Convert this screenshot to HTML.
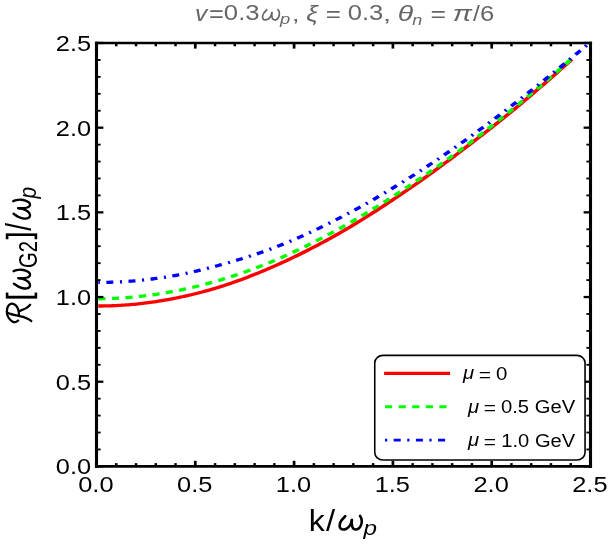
<!DOCTYPE html>
<html><head><meta charset="utf-8"><title>plot</title>
<style>
html,body{margin:0;padding:0;background:#fff;}
body{width:610px;height:545px;overflow:hidden;font-family:"Liberation Sans",sans-serif;}
svg{display:block;will-change:transform;}
text{font-family:"Liberation Sans",sans-serif;}
.tl{font-size:22.4px;fill:#000;}
.mj{stroke:#000;stroke-width:2.7;}
.mjh{stroke:#000;stroke-width:2.3;}
.mn{stroke:#000;stroke-width:2.5;}
.mnh{stroke:#000;stroke-width:1.85;}
</style></head><body>
<svg width="610" height="545" viewBox="0 0 610 545">
<rect x="0" y="0" width="610" height="545" fill="#fff"/>
<!-- title -->
<g><text transform="matrix(0.2458,0,0,0.2208,194.93,20.60)" font-size="100" font-style="italic" fill="#666666">v</text>
<text transform="matrix(0.2542,0,0,0.2312,208.93,22.13)" font-size="100" fill="#666666">=</text>
<text transform="matrix(0.2573,0,0,0.2225,223.87,20.48)" font-size="100" fill="#666666">0.3</text>
<text transform="matrix(0.1833,0,0,0.1440,280.07,24.48)" font-size="100" font-style="italic" fill="#666666">p</text>
<text transform="matrix(0.2700,0,0,0.1917,291.97,20.51)" font-size="100" fill="#666666">,</text>
<text transform="matrix(0.2622,0,0,0.2244,306.31,20.78)" font-size="100" font-style="italic" fill="#666666">ξ</text>
<text transform="matrix(0.2604,0,0,0.2250,325.80,22.02)" font-size="100" fill="#666666">=</text>
<text transform="matrix(0.2557,0,0,0.2225,347.78,20.48)" font-size="100" fill="#666666">0.3</text>
<text transform="matrix(0.2900,0,0,0.1917,382.89,20.51)" font-size="100" fill="#666666">,</text>
<text transform="matrix(0.2833,0,0,0.2274,397.68,21.00)" font-size="100" font-style="italic" fill="#666666">θ</text>
<text transform="matrix(0.1796,0,0,0.1556,412.34,24.60)" font-size="100" font-style="italic" fill="#666666">n</text>
<text transform="matrix(0.2667,0,0,0.2250,430.57,22.02)" font-size="100" fill="#666666">=</text>
<text transform="matrix(0.2873,0,0,0.2222,452.86,20.58)" font-size="100" font-style="italic" fill="#666666">π</text>
<text transform="matrix(0.2464,0,0,0.2247,472.90,20.80)" font-size="100" fill="#666666">/</text>
<text transform="matrix(0.2565,0,0,0.2239,480.02,20.58)" font-size="100" fill="#666666">6</text></g>
<g fill="none" stroke="#666666" stroke-width="1.7" stroke-linecap="round" stroke-linejoin="round"><path d="M266.86,9.75 C266.38,10.27 264.70,11.80 263.99,12.90 C263.27,13.99 262.71,15.33 262.57,16.34 C262.43,17.34 262.71,18.33 263.14,18.92 C263.57,19.51 264.38,19.83 265.15,19.89 C265.91,19.96 266.96,19.70 267.72,19.32 C268.49,18.94 269.15,18.27 269.73,17.60 C270.30,16.93 270.81,16.14 271.16,15.31 C271.52,14.48 271.73,13.06 271.84,12.62"/><path d="M271.84,12.62 C271.83,13.14 271.66,14.74 271.79,15.76 C271.91,16.78 272.13,18.06 272.60,18.75 C273.07,19.43 273.89,19.81 274.60,19.89 C275.32,19.97 276.22,19.69 276.88,19.21 C277.55,18.74 278.20,17.87 278.61,17.03 C279.03,16.18 279.28,15.09 279.35,14.16 C279.42,13.23 279.24,12.23 279.02,11.47 C278.80,10.70 278.21,9.89 278.04,9.57"/></g>
<!-- curves -->
<clipPath id="cp"><rect x="96.5" y="43.0" width="494.00" height="423.40"/></clipPath>
<g clip-path="url(#cp)"><g transform="scale(1.184,1)" fill="none" stroke-width="3.3">
<path d="M83.02,306.01 L84.71,306.00 L86.40,305.98 L88.09,305.95 L89.78,305.91 L91.47,305.86 L93.16,305.80 L94.85,305.73 L96.54,305.65 L98.23,305.56 L99.92,305.46 L101.60,305.35 L103.29,305.22 L104.98,305.09 L106.67,304.95 L108.36,304.79 L110.05,304.63 L111.74,304.45 L113.43,304.27 L115.12,304.07 L116.81,303.86 L118.50,303.64 L120.19,303.42 L121.88,303.18 L123.56,302.93 L125.25,302.67 L126.94,302.40 L128.63,302.12 L130.32,301.83 L132.01,301.53 L133.70,301.22 L135.39,300.90 L137.08,300.57 L138.77,300.23 L140.46,299.88 L142.15,299.53 L143.83,299.16 L145.52,298.79 L147.21,298.40 L148.90,298.01 L150.59,297.60 L152.28,297.19 L153.97,296.77 L155.66,296.34 L157.35,295.89 L159.04,295.44 L160.73,294.98 L162.42,294.50 L164.10,294.02 L165.79,293.53 L167.48,293.02 L169.17,292.51 L170.86,291.98 L172.55,291.44 L174.24,290.89 L175.93,290.33 L177.62,289.76 L179.31,289.18 L181.00,288.59 L182.69,287.98 L184.38,287.36 L186.06,286.74 L187.75,286.10 L189.44,285.45 L191.13,284.79 L192.82,284.12 L194.51,283.44 L196.20,282.75 L197.89,282.05 L199.58,281.34 L201.27,280.62 L202.96,279.90 L204.65,279.16 L206.33,278.41 L208.02,277.66 L209.71,276.89 L211.40,276.12 L213.09,275.34 L214.78,274.55 L216.47,273.75 L218.16,272.94 L219.85,272.12 L221.54,271.29 L223.23,270.45 L224.92,269.61 L226.60,268.76 L228.29,267.90 L229.98,267.03 L231.67,266.15 L233.36,265.26 L235.05,264.37 L236.74,263.47 L238.43,262.56 L240.12,261.64 L241.81,260.71 L243.50,259.78 L245.19,258.84 L246.88,257.88 L248.56,256.93 L250.25,255.96 L251.94,254.98 L253.63,254.00 L255.32,253.01 L257.01,252.01 L258.70,251.00 L260.39,249.98 L262.08,248.96 L263.77,247.93 L265.46,246.89 L267.15,245.84 L268.83,244.79 L270.52,243.72 L272.21,242.65 L273.90,241.57 L275.59,240.49 L277.28,239.39 L278.97,238.29 L280.66,237.18 L282.35,236.06 L284.04,234.93 L285.73,233.80 L287.42,232.66 L289.10,231.50 L290.79,230.34 L292.48,229.17 L294.17,227.99 L295.86,226.80 L297.55,225.61 L299.24,224.40 L300.93,223.19 L302.62,221.96 L304.31,220.73 L306.00,219.49 L307.69,218.25 L309.38,216.99 L311.06,215.73 L312.75,214.46 L314.44,213.19 L316.13,211.91 L317.82,210.62 L319.51,209.32 L321.20,208.03 L322.89,206.72 L324.58,205.41 L326.27,204.09 L327.96,202.77 L329.65,201.45 L331.33,200.12 L333.02,198.78 L334.71,197.44 L336.40,196.10 L338.09,194.75 L339.78,193.40 L341.47,192.04 L343.16,190.68 L344.85,189.31 L346.54,187.93 L348.23,186.55 L349.92,185.16 L351.60,183.76 L353.29,182.36 L354.98,180.95 L356.67,179.54 L358.36,178.12 L360.05,176.69 L361.74,175.26 L363.43,173.83 L365.12,172.38 L366.81,170.93 L368.50,169.48 L370.19,168.02 L371.88,166.56 L373.56,165.08 L375.25,163.61 L376.94,162.13 L378.63,160.64 L380.32,159.15 L382.01,157.65 L383.70,156.15 L385.39,154.64 L387.08,153.13 L388.77,151.61 L390.46,150.09 L392.15,148.57 L393.83,147.04 L395.52,145.52 L397.21,143.99 L398.90,142.46 L400.59,140.92 L402.28,139.39 L403.97,137.85 L405.66,136.31 L407.35,134.76 L409.04,133.21 L410.73,131.65 L412.42,130.09 L414.10,128.53 L415.79,126.96 L417.48,125.38 L419.17,123.80 L420.86,122.21 L422.55,120.61 L424.24,119.01 L425.93,117.40 L427.62,115.79 L429.31,114.16 L431.00,112.53 L432.69,110.89 L434.38,109.25 L436.06,107.59 L437.75,105.92 L439.44,104.25 L441.13,102.57 L442.82,100.88 L444.51,99.19 L446.20,97.50 L447.89,95.80 L449.58,94.09 L451.27,92.38 L452.96,90.67 L454.65,88.95 L456.33,87.22 L458.02,85.50 L459.71,83.76 L461.40,82.02 L463.09,80.28 L464.78,78.53 L466.47,76.78 L468.16,75.02 L469.85,73.26 L471.54,71.50 L473.23,69.72 L474.92,67.95 L476.60,66.17 L478.29,64.38 L479.98,62.59 L481.67,60.80 L483.11,59.27" stroke="#ff0000"/>
<path d="M83.02,298.76 L84.71,298.74 L86.40,298.72 L88.09,298.69 L89.78,298.64 L91.47,298.59 L93.16,298.53 L94.85,298.45 L96.54,298.37 L98.23,298.28 L99.92,298.17 L101.60,298.06 L103.29,297.94 L104.98,297.80 L106.67,297.66 L108.36,297.50 L110.05,297.34 L111.74,297.17 L113.43,296.98 L115.12,296.79 L116.81,296.58 L118.50,296.37 L120.19,296.14 L121.88,295.91 L123.56,295.67 L125.25,295.41 L126.94,295.15 L128.63,294.87 L130.32,294.59 L132.01,294.29 L133.70,293.99 L135.39,293.68 L137.08,293.35 L138.77,293.02 L140.46,292.68 L142.15,292.33 L143.83,291.97 L145.52,291.60 L147.21,291.23 L148.90,290.84 L150.59,290.45 L152.28,290.04 L153.97,289.63 L155.66,289.21 L157.35,288.78 L159.04,288.33 L160.73,287.88 L162.42,287.43 L164.10,286.96 L165.79,286.48 L167.48,285.99 L169.17,285.49 L170.86,284.99 L172.55,284.47 L174.24,283.94 L175.93,283.41 L177.62,282.86 L179.31,282.31 L181.00,281.75 L182.69,281.17 L184.38,280.59 L186.06,279.99 L187.75,279.39 L189.44,278.78 L191.13,278.16 L192.82,277.53 L194.51,276.89 L196.20,276.25 L197.89,275.59 L199.58,274.93 L201.27,274.25 L202.96,273.57 L204.65,272.88 L206.33,272.18 L208.02,271.48 L209.71,270.76 L211.40,270.03 L213.09,269.30 L214.78,268.56 L216.47,267.80 L218.16,267.04 L219.85,266.27 L221.54,265.49 L223.23,264.70 L224.92,263.90 L226.60,263.10 L228.29,262.28 L229.98,261.45 L231.67,260.62 L233.36,259.78 L235.05,258.92 L236.74,258.06 L238.43,257.19 L240.12,256.31 L241.81,255.41 L243.50,254.51 L245.19,253.60 L246.88,252.68 L248.56,251.75 L250.25,250.82 L251.94,249.87 L253.63,248.91 L255.32,247.95 L257.01,246.98 L258.70,246.00 L260.39,245.01 L262.08,244.01 L263.77,243.00 L265.46,241.99 L267.15,240.97 L268.83,239.94 L270.52,238.90 L272.21,237.86 L273.90,236.81 L275.59,235.75 L277.28,234.68 L278.97,233.61 L280.66,232.53 L282.35,231.44 L284.04,230.35 L285.73,229.25 L287.42,228.14 L289.10,227.03 L290.79,225.91 L292.48,224.78 L294.17,223.64 L295.86,222.50 L297.55,221.34 L299.24,220.18 L300.93,219.02 L302.62,217.84 L304.31,216.66 L306.00,215.47 L307.69,214.28 L309.38,213.08 L311.06,211.87 L312.75,210.65 L314.44,209.43 L316.13,208.20 L317.82,206.97 L319.51,205.73 L321.20,204.48 L322.89,203.23 L324.58,201.97 L326.27,200.71 L327.96,199.44 L329.65,198.17 L331.33,196.89 L333.02,195.61 L334.71,194.32 L336.40,193.02 L338.09,191.72 L339.78,190.42 L341.47,189.11 L343.16,187.79 L344.85,186.47 L346.54,185.14 L348.23,183.81 L349.92,182.47 L351.60,181.12 L353.29,179.77 L354.98,178.41 L356.67,177.05 L358.36,175.68 L360.05,174.30 L361.74,172.92 L363.43,171.53 L365.12,170.14 L366.81,168.74 L368.50,167.33 L370.19,165.91 L371.88,164.50 L373.56,163.07 L375.25,161.64 L376.94,160.20 L378.63,158.76 L380.32,157.30 L382.01,155.85 L383.70,154.38 L385.39,152.91 L387.08,151.44 L388.77,149.95 L390.46,148.46 L392.15,146.97 L393.83,145.47 L395.52,143.96 L397.21,142.44 L398.90,140.92 L400.59,139.39 L402.28,137.86 L403.97,136.32 L405.66,134.78 L407.35,133.23 L409.04,131.67 L410.73,130.11 L412.42,128.54 L414.10,126.97 L415.79,125.39 L417.48,123.81 L419.17,122.22 L420.86,120.62 L422.55,119.02 L424.24,117.42 L425.93,115.81 L427.62,114.20 L429.31,112.58 L431.00,110.95 L432.69,109.32 L434.38,107.69 L436.06,106.05 L437.75,104.41 L439.44,102.76 L441.13,101.11 L442.82,99.45 L444.51,97.79 L446.20,96.12 L447.89,94.45 L449.58,92.77 L451.27,91.09 L452.96,89.40 L454.65,87.71 L456.33,86.01 L458.02,84.31 L459.71,82.60 L461.40,80.89 L463.09,79.17 L464.78,77.45 L466.47,75.73 L468.16,74.00 L469.85,72.26 L471.54,70.52 L473.23,68.78 L474.92,67.03 L476.60,65.27 L478.29,63.52 L479.98,61.75 L481.67,59.99 L483.11,58.48" stroke="#00ff00" stroke-dasharray="6.081 5.405"/>
<path d="M83.02,282.46 L84.71,282.45 L86.40,282.43 L88.09,282.40 L89.78,282.36 L91.47,282.31 L93.16,282.25 L94.85,282.19 L96.54,282.11 L98.23,282.03 L99.92,281.94 L101.60,281.84 L103.29,281.73 L104.98,281.61 L106.67,281.48 L108.36,281.34 L110.05,281.20 L111.74,281.04 L113.43,280.88 L115.12,280.70 L116.81,280.52 L118.50,280.33 L120.19,280.13 L121.88,279.92 L123.56,279.70 L125.25,279.48 L126.94,279.24 L128.63,279.00 L130.32,278.74 L132.01,278.48 L133.70,278.21 L135.39,277.93 L137.08,277.64 L138.77,277.33 L140.46,277.02 L142.15,276.69 L143.83,276.35 L145.52,276.01 L147.21,275.65 L148.90,275.28 L150.59,274.90 L152.28,274.51 L153.97,274.11 L155.66,273.70 L157.35,273.28 L159.04,272.85 L160.73,272.41 L162.42,271.96 L164.10,271.51 L165.79,271.05 L167.48,270.58 L169.17,270.10 L170.86,269.61 L172.55,269.12 L174.24,268.62 L175.93,268.11 L177.62,267.60 L179.31,267.08 L181.00,266.55 L182.69,266.02 L184.38,265.48 L186.06,264.94 L187.75,264.39 L189.44,263.83 L191.13,263.27 L192.82,262.71 L194.51,262.14 L196.20,261.56 L197.89,260.98 L199.58,260.39 L201.27,259.79 L202.96,259.18 L204.65,258.57 L206.33,257.95 L208.02,257.32 L209.71,256.69 L211.40,256.05 L213.09,255.39 L214.78,254.73 L216.47,254.06 L218.16,253.39 L219.85,252.70 L221.54,252.00 L223.23,251.30 L224.92,250.58 L226.60,249.86 L228.29,249.12 L229.98,248.38 L231.67,247.62 L233.36,246.85 L235.05,246.07 L236.74,245.28 L238.43,244.48 L240.12,243.67 L241.81,242.86 L243.50,242.03 L245.19,241.19 L246.88,240.35 L248.56,239.49 L250.25,238.63 L251.94,237.76 L253.63,236.88 L255.32,235.99 L257.01,235.09 L258.70,234.19 L260.39,233.27 L262.08,232.35 L263.77,231.42 L265.46,230.49 L267.15,229.54 L268.83,228.59 L270.52,227.63 L272.21,226.66 L273.90,225.69 L275.59,224.70 L277.28,223.72 L278.97,222.72 L280.66,221.72 L282.35,220.71 L284.04,219.69 L285.73,218.67 L287.42,217.64 L289.10,216.60 L290.79,215.56 L292.48,214.50 L294.17,213.44 L295.86,212.38 L297.55,211.30 L299.24,210.22 L300.93,209.13 L302.62,208.04 L304.31,206.94 L306.00,205.83 L307.69,204.71 L309.38,203.59 L311.06,202.46 L312.75,201.32 L314.44,200.18 L316.13,199.03 L317.82,197.87 L319.51,196.71 L321.20,195.54 L322.89,194.36 L324.58,193.18 L326.27,191.99 L327.96,190.80 L329.65,189.60 L331.33,188.39 L333.02,187.18 L334.71,185.96 L336.40,184.74 L338.09,183.51 L339.78,182.27 L341.47,181.03 L343.16,179.78 L344.85,178.53 L346.54,177.27 L348.23,176.00 L349.92,174.72 L351.60,173.44 L353.29,172.16 L354.98,170.86 L356.67,169.56 L358.36,168.26 L360.05,166.95 L361.74,165.63 L363.43,164.31 L365.12,162.98 L366.81,161.64 L368.50,160.30 L370.19,158.95 L371.88,157.60 L373.56,156.24 L375.25,154.87 L376.94,153.50 L378.63,152.13 L380.32,150.75 L382.01,149.36 L383.70,147.96 L385.39,146.57 L387.08,145.16 L388.77,143.75 L390.46,142.34 L392.15,140.91 L393.83,139.49 L395.52,138.06 L397.21,136.62 L398.90,135.18 L400.59,133.73 L402.28,132.28 L403.97,130.82 L405.66,129.36 L407.35,127.89 L409.04,126.42 L410.73,124.94 L412.42,123.46 L414.10,121.97 L415.79,120.47 L417.48,118.98 L419.17,117.47 L420.86,115.97 L422.55,114.46 L424.24,112.94 L425.93,111.42 L427.62,109.89 L429.31,108.36 L431.00,106.83 L432.69,105.29 L434.38,103.74 L436.06,102.20 L437.75,100.64 L439.44,99.09 L441.13,97.53 L442.82,95.96 L444.51,94.39 L446.20,92.82 L447.89,91.24 L449.58,89.66 L451.27,88.08 L452.96,86.49 L454.65,84.90 L456.33,83.30 L458.02,81.70 L459.71,80.10 L461.40,78.49 L463.09,76.88 L464.78,75.26 L466.47,73.64 L468.16,72.02 L469.85,70.40 L471.54,68.77 L473.23,67.14 L474.92,65.50 L476.60,63.86 L478.29,62.22 L479.98,60.58 L481.67,58.93 L483.36,57.28 L485.05,55.63 L486.74,53.97 L488.43,52.31 L490.12,50.65 L491.81,48.99 L493.50,47.32 L495.19,45.65 L496.88,43.98 L498.56,42.31 L498.82,42.05" stroke="#0000ff" stroke-dasharray="1.770 5.479 5.901 5.564" stroke-dashoffset="0.42"/>
</g></g>
<!-- frame -->
<line x1="94.95" y1="43.0" x2="592.05" y2="43.0" stroke="#000" stroke-width="2.4"/>
<line x1="94.95" y1="466.4" x2="592.05" y2="466.4" stroke="#000" stroke-width="2.6"/>
<line x1="96.5" y1="41.8" x2="96.5" y2="467.7" stroke="#000" stroke-width="3.1"/>
<line x1="590.5" y1="41.8" x2="590.5" y2="467.7" stroke="#000" stroke-width="3.1"/>
<line x1="96.50" y1="466.4" x2="96.50" y2="460.80" class="mj"/>
<line x1="96.50" y1="43.0" x2="96.50" y2="48.60" class="mj"/>
<line x1="96.5" y1="466.40" x2="103.40" y2="466.40" class="mjh"/>
<line x1="590.5" y1="466.40" x2="583.60" y2="466.40" class="mjh"/>
<line x1="195.30" y1="466.4" x2="195.30" y2="460.80" class="mj"/>
<line x1="195.30" y1="43.0" x2="195.30" y2="48.60" class="mj"/>
<line x1="96.5" y1="381.72" x2="103.40" y2="381.72" class="mjh"/>
<line x1="590.5" y1="381.72" x2="583.60" y2="381.72" class="mjh"/>
<line x1="294.10" y1="466.4" x2="294.10" y2="460.80" class="mj"/>
<line x1="294.10" y1="43.0" x2="294.10" y2="48.60" class="mj"/>
<line x1="96.5" y1="297.04" x2="103.40" y2="297.04" class="mjh"/>
<line x1="590.5" y1="297.04" x2="583.60" y2="297.04" class="mjh"/>
<line x1="392.90" y1="466.4" x2="392.90" y2="460.80" class="mj"/>
<line x1="392.90" y1="43.0" x2="392.90" y2="48.60" class="mj"/>
<line x1="96.5" y1="212.36" x2="103.40" y2="212.36" class="mjh"/>
<line x1="590.5" y1="212.36" x2="583.60" y2="212.36" class="mjh"/>
<line x1="491.70" y1="466.4" x2="491.70" y2="460.80" class="mj"/>
<line x1="491.70" y1="43.0" x2="491.70" y2="48.60" class="mj"/>
<line x1="96.5" y1="127.68" x2="103.40" y2="127.68" class="mjh"/>
<line x1="590.5" y1="127.68" x2="583.60" y2="127.68" class="mjh"/>
<line x1="590.50" y1="466.4" x2="590.50" y2="460.80" class="mj"/>
<line x1="590.50" y1="43.0" x2="590.50" y2="48.60" class="mj"/>
<line x1="96.5" y1="43.00" x2="103.40" y2="43.00" class="mjh"/>
<line x1="590.5" y1="43.00" x2="583.60" y2="43.00" class="mjh"/>
<line x1="116.26" y1="466.4" x2="116.26" y2="463.10" class="mn"/>
<line x1="116.26" y1="43.0" x2="116.26" y2="46.30" class="mn"/>
<line x1="96.5" y1="449.46" x2="100.60" y2="449.46" class="mnh"/>
<line x1="590.5" y1="449.46" x2="586.40" y2="449.46" class="mnh"/>
<line x1="136.02" y1="466.4" x2="136.02" y2="463.10" class="mn"/>
<line x1="136.02" y1="43.0" x2="136.02" y2="46.30" class="mn"/>
<line x1="96.5" y1="432.53" x2="100.60" y2="432.53" class="mnh"/>
<line x1="590.5" y1="432.53" x2="586.40" y2="432.53" class="mnh"/>
<line x1="155.78" y1="466.4" x2="155.78" y2="463.10" class="mn"/>
<line x1="155.78" y1="43.0" x2="155.78" y2="46.30" class="mn"/>
<line x1="96.5" y1="415.59" x2="100.60" y2="415.59" class="mnh"/>
<line x1="590.5" y1="415.59" x2="586.40" y2="415.59" class="mnh"/>
<line x1="175.54" y1="466.4" x2="175.54" y2="463.10" class="mn"/>
<line x1="175.54" y1="43.0" x2="175.54" y2="46.30" class="mn"/>
<line x1="96.5" y1="398.66" x2="100.60" y2="398.66" class="mnh"/>
<line x1="590.5" y1="398.66" x2="586.40" y2="398.66" class="mnh"/>
<line x1="215.06" y1="466.4" x2="215.06" y2="463.10" class="mn"/>
<line x1="215.06" y1="43.0" x2="215.06" y2="46.30" class="mn"/>
<line x1="96.5" y1="364.78" x2="100.60" y2="364.78" class="mnh"/>
<line x1="590.5" y1="364.78" x2="586.40" y2="364.78" class="mnh"/>
<line x1="234.82" y1="466.4" x2="234.82" y2="463.10" class="mn"/>
<line x1="234.82" y1="43.0" x2="234.82" y2="46.30" class="mn"/>
<line x1="96.5" y1="347.85" x2="100.60" y2="347.85" class="mnh"/>
<line x1="590.5" y1="347.85" x2="586.40" y2="347.85" class="mnh"/>
<line x1="254.58" y1="466.4" x2="254.58" y2="463.10" class="mn"/>
<line x1="254.58" y1="43.0" x2="254.58" y2="46.30" class="mn"/>
<line x1="96.5" y1="330.91" x2="100.60" y2="330.91" class="mnh"/>
<line x1="590.5" y1="330.91" x2="586.40" y2="330.91" class="mnh"/>
<line x1="274.34" y1="466.4" x2="274.34" y2="463.10" class="mn"/>
<line x1="274.34" y1="43.0" x2="274.34" y2="46.30" class="mn"/>
<line x1="96.5" y1="313.98" x2="100.60" y2="313.98" class="mnh"/>
<line x1="590.5" y1="313.98" x2="586.40" y2="313.98" class="mnh"/>
<line x1="313.86" y1="466.4" x2="313.86" y2="463.10" class="mn"/>
<line x1="313.86" y1="43.0" x2="313.86" y2="46.30" class="mn"/>
<line x1="96.5" y1="280.10" x2="100.60" y2="280.10" class="mnh"/>
<line x1="590.5" y1="280.10" x2="586.40" y2="280.10" class="mnh"/>
<line x1="333.62" y1="466.4" x2="333.62" y2="463.10" class="mn"/>
<line x1="333.62" y1="43.0" x2="333.62" y2="46.30" class="mn"/>
<line x1="96.5" y1="263.17" x2="100.60" y2="263.17" class="mnh"/>
<line x1="590.5" y1="263.17" x2="586.40" y2="263.17" class="mnh"/>
<line x1="353.38" y1="466.4" x2="353.38" y2="463.10" class="mn"/>
<line x1="353.38" y1="43.0" x2="353.38" y2="46.30" class="mn"/>
<line x1="96.5" y1="246.23" x2="100.60" y2="246.23" class="mnh"/>
<line x1="590.5" y1="246.23" x2="586.40" y2="246.23" class="mnh"/>
<line x1="373.14" y1="466.4" x2="373.14" y2="463.10" class="mn"/>
<line x1="373.14" y1="43.0" x2="373.14" y2="46.30" class="mn"/>
<line x1="96.5" y1="229.30" x2="100.60" y2="229.30" class="mnh"/>
<line x1="590.5" y1="229.30" x2="586.40" y2="229.30" class="mnh"/>
<line x1="412.66" y1="466.4" x2="412.66" y2="463.10" class="mn"/>
<line x1="412.66" y1="43.0" x2="412.66" y2="46.30" class="mn"/>
<line x1="96.5" y1="195.42" x2="100.60" y2="195.42" class="mnh"/>
<line x1="590.5" y1="195.42" x2="586.40" y2="195.42" class="mnh"/>
<line x1="432.42" y1="466.4" x2="432.42" y2="463.10" class="mn"/>
<line x1="432.42" y1="43.0" x2="432.42" y2="46.30" class="mn"/>
<line x1="96.5" y1="178.49" x2="100.60" y2="178.49" class="mnh"/>
<line x1="590.5" y1="178.49" x2="586.40" y2="178.49" class="mnh"/>
<line x1="452.18" y1="466.4" x2="452.18" y2="463.10" class="mn"/>
<line x1="452.18" y1="43.0" x2="452.18" y2="46.30" class="mn"/>
<line x1="96.5" y1="161.55" x2="100.60" y2="161.55" class="mnh"/>
<line x1="590.5" y1="161.55" x2="586.40" y2="161.55" class="mnh"/>
<line x1="471.94" y1="466.4" x2="471.94" y2="463.10" class="mn"/>
<line x1="471.94" y1="43.0" x2="471.94" y2="46.30" class="mn"/>
<line x1="96.5" y1="144.62" x2="100.60" y2="144.62" class="mnh"/>
<line x1="590.5" y1="144.62" x2="586.40" y2="144.62" class="mnh"/>
<line x1="511.46" y1="466.4" x2="511.46" y2="463.10" class="mn"/>
<line x1="511.46" y1="43.0" x2="511.46" y2="46.30" class="mn"/>
<line x1="96.5" y1="110.74" x2="100.60" y2="110.74" class="mnh"/>
<line x1="590.5" y1="110.74" x2="586.40" y2="110.74" class="mnh"/>
<line x1="531.22" y1="466.4" x2="531.22" y2="463.10" class="mn"/>
<line x1="531.22" y1="43.0" x2="531.22" y2="46.30" class="mn"/>
<line x1="96.5" y1="93.81" x2="100.60" y2="93.81" class="mnh"/>
<line x1="590.5" y1="93.81" x2="586.40" y2="93.81" class="mnh"/>
<line x1="550.98" y1="466.4" x2="550.98" y2="463.10" class="mn"/>
<line x1="550.98" y1="43.0" x2="550.98" y2="46.30" class="mn"/>
<line x1="96.5" y1="76.87" x2="100.60" y2="76.87" class="mnh"/>
<line x1="590.5" y1="76.87" x2="586.40" y2="76.87" class="mnh"/>
<line x1="570.74" y1="466.4" x2="570.74" y2="463.10" class="mn"/>
<line x1="570.74" y1="43.0" x2="570.74" y2="46.30" class="mn"/>
<line x1="96.5" y1="59.94" x2="100.60" y2="59.94" class="mnh"/>
<line x1="590.5" y1="59.94" x2="586.40" y2="59.94" class="mnh"/>
<text transform="translate(95.90,492.1) scale(1.135,1)" text-anchor="middle" class="tl">0.0</text>
<text transform="translate(91.1,474.30) scale(1.135,1)" text-anchor="end" class="tl">0.0</text>
<text transform="translate(194.70,492.1) scale(1.135,1)" text-anchor="middle" class="tl">0.5</text>
<text transform="translate(91.1,389.62) scale(1.135,1)" text-anchor="end" class="tl">0.5</text>
<text transform="translate(293.50,492.1) scale(1.135,1)" text-anchor="middle" class="tl">1.0</text>
<text transform="translate(91.1,304.94) scale(1.135,1)" text-anchor="end" class="tl">1.0</text>
<text transform="translate(392.30,492.1) scale(1.135,1)" text-anchor="middle" class="tl">1.5</text>
<text transform="translate(91.1,220.26) scale(1.135,1)" text-anchor="end" class="tl">1.5</text>
<text transform="translate(491.10,492.1) scale(1.135,1)" text-anchor="middle" class="tl">2.0</text>
<text transform="translate(91.1,135.58) scale(1.135,1)" text-anchor="end" class="tl">2.0</text>
<text transform="translate(589.90,492.1) scale(1.135,1)" text-anchor="middle" class="tl">2.5</text>
<text transform="translate(91.1,50.90) scale(1.135,1)" text-anchor="end" class="tl">2.5</text>
<!-- legend -->
<rect x="374.75" y="355.4" width="210.3" height="104.6" rx="8.3" ry="7.4" fill="#fff" stroke="#000" stroke-width="1.6"/>
<line x1="384.1" y1="373.4" x2="450.1" y2="373.4" stroke="#ff0000" stroke-width="3.4"/>
<line x1="385" y1="406.7" x2="446.6" y2="406.7" stroke="#00ff00" stroke-width="2.9" stroke-dasharray="7.2 6.4"/>
<line x1="385" y1="440.1" x2="445.2" y2="440.1" stroke="#0000ff" stroke-width="2.9" stroke-dasharray="2.2 6.5 7 6.5"/>
<g><text transform="matrix(0.2036,0,0,0.1792,463.11,379.20)" font-size="100" font-style="italic" fill="#000">μ</text>
<text transform="matrix(0.2104,0,0,0.1844,478.75,380.83)" font-size="100" fill="#000">=</text>
<text transform="matrix(0.2042,0,0,0.1803,495.98,379.52)" font-size="100" fill="#000">0</text>
<text transform="matrix(0.2036,0,0,0.1819,468.11,412.84)" font-size="100" font-style="italic" fill="#000">μ</text>
<text transform="matrix(0.2104,0,0,0.1812,483.75,414.48)" font-size="100" fill="#000">=</text>
<text transform="matrix(0.2023,0,0,0.1803,500.99,413.12)" font-size="100" fill="#000">0.5</text>
<text transform="matrix(0.2021,0,0,0.1873,534.79,413.31)" font-size="100" fill="#000">GeV</text>
<text transform="matrix(0.2036,0,0,0.1806,468.11,446.27)" font-size="100" font-style="italic" fill="#000">μ</text>
<text transform="matrix(0.2104,0,0,0.1813,483.75,447.78)" font-size="100" fill="#000">=</text>
<text transform="matrix(0.2016,0,0,0.1803,501.29,446.52)" font-size="100" fill="#000">1.0</text>
<text transform="matrix(0.2015,0,0,0.1859,534.89,446.71)" font-size="100" fill="#000">GeV</text></g>
<!-- x label -->
<g><text transform="matrix(0.3209,0,0,0.2959,308.65,530.90)" font-size="100" fill="#000">k</text>
<text transform="matrix(0.3286,0,0,0.2973,326.00,531.20)" font-size="100" fill="#000">/</text>
<text transform="matrix(0.2426,0,0,0.2053,363.39,535.39)" font-size="100" font-style="italic" fill="#000">p</text></g>
<g fill="none" stroke="#000" stroke-width="2.6" stroke-linecap="round" stroke-linejoin="round"><path d="M345.31,516.19 C344.68,516.88 342.47,518.88 341.53,520.33 C340.59,521.77 339.86,523.53 339.67,524.86 C339.48,526.18 339.86,527.48 340.42,528.26 C340.98,529.04 342.05,529.45 343.06,529.54 C344.06,529.62 345.44,529.29 346.45,528.78 C347.45,528.28 348.33,527.40 349.08,526.52 C349.84,525.64 350.51,524.59 350.97,523.50 C351.44,522.41 351.72,520.55 351.87,519.96"/><path d="M351.87,519.96 C351.85,520.65 351.63,522.76 351.79,524.10 C351.96,525.45 352.24,527.12 352.86,528.03 C353.48,528.93 354.56,529.43 355.50,529.54 C356.44,529.64 357.62,529.27 358.50,528.64 C359.38,528.02 360.23,526.87 360.77,525.76 C361.31,524.66 361.65,523.21 361.74,521.99 C361.83,520.77 361.59,519.46 361.30,518.45 C361.02,517.44 360.24,516.37 360.02,515.95"/></g>
<!-- y label -->
<g transform="rotate(-90)"><text transform="matrix(0.2093,0,0,0.2320,-198.48,36.23)" font-size="100" font-style="italic" fill="#000">p</text>
<text transform="matrix(0.2750,0,0,0.3452,-230.80,31.20)" font-size="100" fill="#000">/</text>
<text transform="matrix(0.2750,0,0,0.3277,-239.18,30.02)" font-size="100" stroke="#000" stroke-width="1.4" fill="#000">]</text>
<text transform="matrix(0.2024,0,0,0.2563,-268.01,36.74)" font-size="100" fill="#000">G2</text>
<text transform="matrix(0.2750,0,0,0.3277,-300.23,30.02)" font-size="100" stroke="#000" stroke-width="1.4" fill="#000">[</text><g fill="none" stroke="#000" stroke-width="2.4" stroke-linecap="round" stroke-linejoin="round"><path d="M-213.75,13.61 C-214.29,14.46 -216.17,16.92 -216.98,18.69 C-217.78,20.47 -218.41,22.63 -218.57,24.25 C-218.73,25.87 -218.41,27.47 -217.93,28.43 C-217.45,29.38 -216.53,29.89 -215.67,30.00 C-214.81,30.10 -213.63,29.69 -212.78,29.07 C-211.92,28.45 -211.16,27.37 -210.52,26.29 C-209.87,25.21 -209.30,23.93 -208.90,22.59 C-208.51,21.25 -208.27,18.96 -208.14,18.24"/><path d="M-208.14,18.24 C-208.15,19.09 -208.34,21.67 -208.20,23.32 C-208.06,24.97 -207.82,27.03 -207.29,28.14 C-206.76,29.26 -205.84,29.87 -205.03,30.00 C-204.23,30.12 -203.22,29.67 -202.47,28.90 C-201.72,28.13 -200.98,26.73 -200.52,25.37 C-200.06,24.00 -199.77,22.23 -199.69,20.73 C-199.62,19.24 -199.82,17.62 -200.07,16.39 C-200.31,15.15 -200.98,13.84 -201.16,13.33"/></g><g fill="none" stroke="#000" stroke-width="2.4" stroke-linecap="round" stroke-linejoin="round"><path d="M-283.68,13.89 C-284.21,14.72 -286.09,17.15 -286.89,18.89 C-287.69,20.64 -288.32,22.77 -288.48,24.36 C-288.64,25.96 -288.32,27.53 -287.84,28.47 C-287.36,29.42 -286.45,29.91 -285.59,30.02 C-284.74,30.12 -283.57,29.71 -282.71,29.11 C-281.86,28.50 -281.11,27.43 -280.47,26.37 C-279.82,25.31 -279.25,24.05 -278.86,22.73 C-278.46,21.40 -278.22,19.16 -278.10,18.45"/><path d="M-278.10,18.45 C-278.11,19.28 -278.30,21.83 -278.16,23.45 C-278.02,25.08 -277.78,27.10 -277.25,28.19 C-276.73,29.29 -275.81,29.89 -275.01,30.02 C-274.21,30.14 -273.20,29.70 -272.45,28.94 C-271.70,28.18 -270.98,26.80 -270.52,25.46 C-270.06,24.12 -269.77,22.38 -269.69,20.90 C-269.62,19.43 -269.82,17.84 -270.06,16.62 C-270.31,15.41 -270.97,14.11 -271.15,13.61"/></g></g>
<g fill="none" stroke="#000" stroke-width="2.3" stroke-linecap="round" stroke-linejoin="round"><path d="M18.16,320.58 C17.70,320.83 16.35,321.94 15.38,322.08 C14.40,322.22 13.33,321.99 12.31,321.41 C11.29,320.84 10.08,319.74 9.25,318.62 C8.41,317.51 7.69,316.02 7.30,314.72 C6.91,313.42 6.81,312.17 6.91,310.82 C7.00,309.47 7.28,307.77 7.85,306.64 C8.43,305.51 9.48,304.48 10.36,304.02 C11.24,303.56 12.22,303.60 13.15,303.85 C14.08,304.10 15.15,304.74 15.94,305.53 C16.73,306.31 17.42,307.52 17.89,308.59 C18.35,309.66 18.54,310.77 18.72,311.94 C18.91,313.10 18.95,314.95 19.00,315.56"/><path d="M19.28,311.21 C19.93,310.93 21.97,310.10 23.18,309.54 C24.39,308.98 25.60,308.42 26.53,307.87 C27.46,307.31 28.15,306.70 28.76,306.19 C29.36,305.68 29.92,305.03 30.15,304.80"/><path d="M7.57,312.77 C8.04,312.96 9.25,313.53 10.36,313.89 C11.48,314.24 12.87,314.56 14.26,314.89 C15.66,315.21 17.24,315.49 18.72,315.84 C20.21,316.18 21.79,316.51 23.18,316.95 C24.58,317.40 25.97,318.00 27.08,318.51 C28.20,319.02 29.17,319.61 29.87,320.02 C30.57,320.43 31.03,320.81 31.26,320.97"/></g>
</svg>
</body></html>
